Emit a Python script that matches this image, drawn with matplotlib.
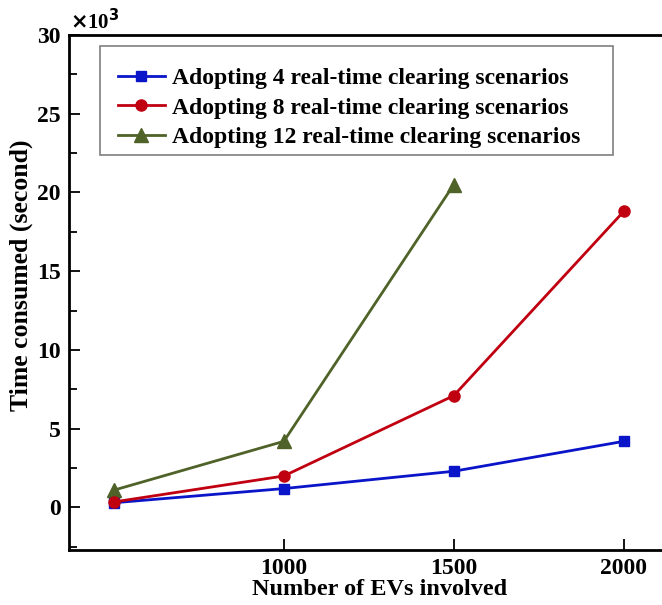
import matplotlib
matplotlib.use("Agg")
import matplotlib.pyplot as plt
from matplotlib.patches import Rectangle
from matplotlib.ticker import MultipleLocator, FixedLocator

plt.rcParams["font.family"] = ["Liberation Serif", "DejaVu Serif"]
plt.rcParams["font.weight"] = "bold"

# === Daten ===
evs = [500, 1000, 1500, 2000]
time_4 = [0.3, 1.2, 2.3, 4.2]
time_8 = [0.35, 2.0, 7.1, 18.8]
evs_12 = [500, 1000, 1500]
time_12 = [1.1, 4.2, 20.5]

labels = [
    "Adopting 4 real-time clearing scenarios",
    "Adopting 8 real-time clearing scenarios",
    "Adopting 12 real-time clearing scenarios",
]
x_ticks = [1000, 1500, 2000]
y_ticks = [0, 5, 10, 15, 20, 25, 30]

W, H = 662, 605
fig = plt.figure(figsize=(W / 100, H / 100), dpi=100)
ax = fig.add_axes([69 / W, 1 - 550 / H, (690 - 69) / W, (550 - 35) / H])

ax.plot(evs, time_4, color="#0A14C8", linewidth=2.0, marker="s",
        markersize=7, label=labels[0], zorder=3)
ax.plot(evs, time_8, color="#C00010", linewidth=2.0, marker="o",
        markersize=8, label=labels[1], zorder=4)
ax.plot(evs_12, time_12, color="#4F6228", linewidth=2.0, marker="^",
        markersize=10, label=labels[2], zorder=2)

# === Achsen ===
ax.set_xlim(368, 2195)
ax.set_ylim(-2.7, 30)
ax.xaxis.set_major_locator(FixedLocator(x_ticks))
ax.yaxis.set_major_locator(FixedLocator(y_ticks))
ax.yaxis.set_minor_locator(MultipleLocator(2.5))

for side in ["left", "bottom", "top"]:
    ax.spines[side].set_linewidth(2.0)
ax.spines["right"].set_visible(False)

ax.tick_params(axis="both", which="major", direction="in", length=8,
               width=1.3, labelsize=17, pad=6)
ax.tick_params(axis="y", which="minor", direction="in", length=6, width=1.3)
ax.tick_params(axis="x", which="minor", length=0)
for lbl in ax.get_xticklabels() + ax.get_yticklabels():
    lbl.set_fontweight("bold")

ax.set_xlabel("Number of EVs involved", fontsize=17.5, fontweight="bold",
              labelpad=0)
ax.set_ylabel("Time consumed (second)", fontsize=18.5, fontweight="bold")
ax.yaxis.set_label_coords(-0.058, 0.534)

fig.text(70 / W, 1 - 22 / H, r"$\times$10$^3$", fontsize=15,
         ha="left", va="center")

# Legende ohne eigenen Rahmen, Rahmen separat (Inhalt sitzt tiefer)
ax.legend(
    loc="upper left",
    bbox_to_anchor=(100 / W, 1 - 161 / H, 513 / W, 111 / H),
    bbox_transform=fig.transFigure,
    mode="expand",
    frameon=False,
    handlelength=2.0,
    labelspacing=0.33,
    handletextpad=0.3,
    borderpad=0.75,
    borderaxespad=0,
    prop={"weight": "bold", "size": 17},
)
fig.add_artist(Rectangle((100 / W, 1 - 155 / H), 513 / W, 109 / H,
                         transform=fig.transFigure, fill=False,
                         edgecolor="#7F7F7F", linewidth=1.2))

fig.savefig("out.png", dpi=100)
